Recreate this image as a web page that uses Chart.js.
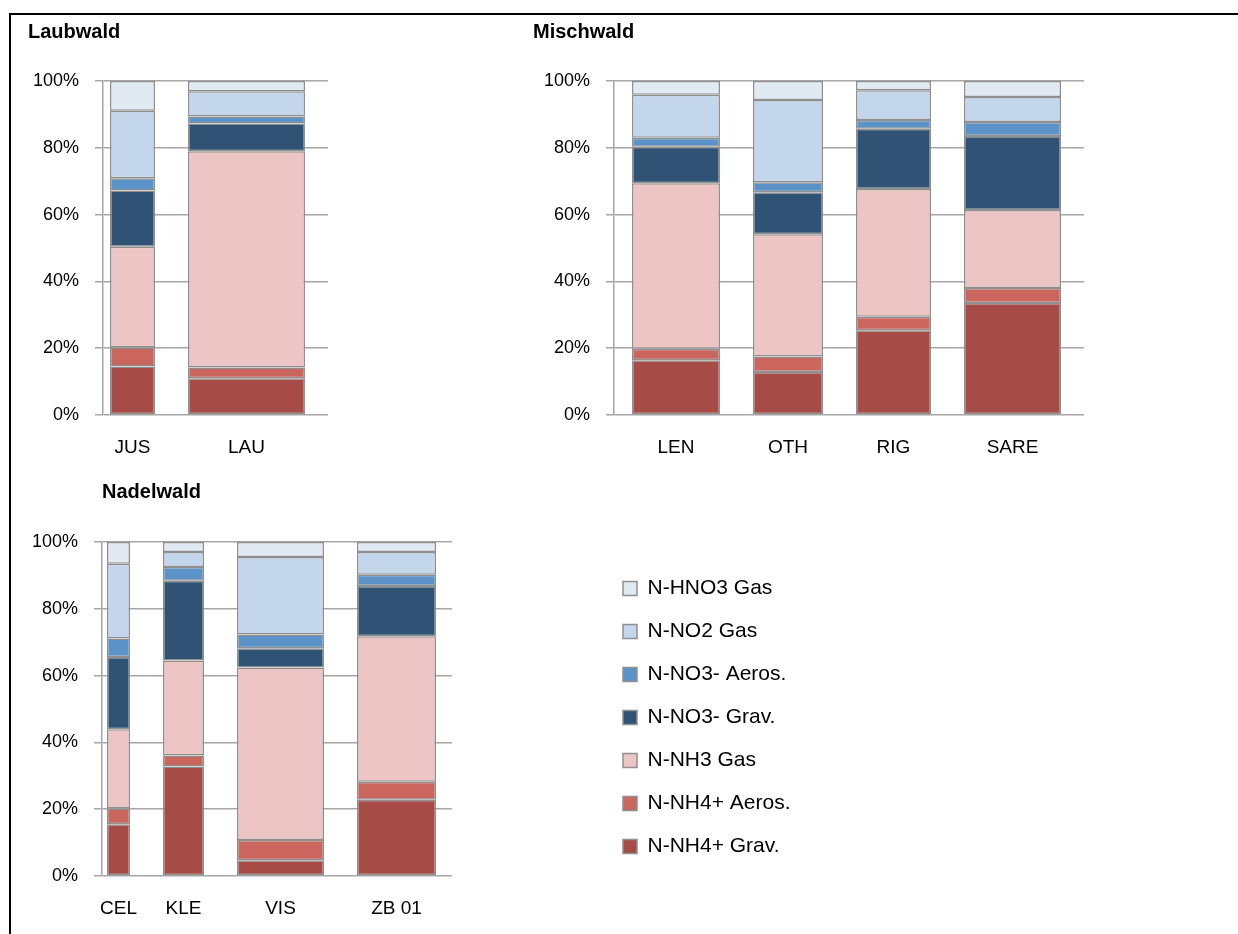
<!DOCTYPE html>
<html>
<head>
<meta charset="utf-8">
<script src="https://cdn.jsdelivr.net/npm/chart.js@4.4.0/dist/chart.umd.min.js"></script>
<style>
  html, body { margin: 0; padding: 0; background: #fff; }
  #page { position: relative; width: 1238px; height: 934px; overflow: hidden; }
  #frame { position: absolute; left: 9px; top: 13px; width: 1300px; height: 1000px; border: 2px solid #000; }
  canvas { position: absolute; }
</style>
</head>
<body>
<div id="page">
  <div id="frame"></div>
  <canvas id="laubDiv" width="300" height="450" style="left:28px;top:10px"></canvas>
  <canvas id="mischDiv" width="551" height="450" style="left:533px;top:10px"></canvas>
  <canvas id="nadelDiv" width="424" height="451" style="left:28px;top:470px"></canvas>
  <canvas id="legendDiv" width="460" height="340" style="left:601px;top:556px"></canvas>
</div>
<script>
// series, bottom of the stack first
const seriesNames = [
  "N-NH4+ Grav.",
  "N-NH4+ Aeros.",
  "N-NH3 Gas",
  "N-NO3- Grav.",
  "N-NO3- Aeros.",
  "N-NO2 Gas",
  "N-HNO3 Gas",
];
const seriesColors = ["#a64b45", "#cb665f", "#ecc5c4", "#2f5275", "#5b93c8", "#c4d6eb", "#e1e9f3"];

// Laubwald
const laubSites = ["JUS", "LAU"];
const laubWidth = [4.5, 11.7];
const laubValues = [
  [14.5, 5.7, 30.2, 16.8, 3.7, 20.2, 8.9],
  [11.0, 3.2, 64.8, 8.3, 2.1, 7.5, 3.1],
];

// Mischwald
const mischSites = ["LEN", "OTH", "RIG", "SARE"];
const mischWidth = [8.8, 7.0, 7.5, 9.7];
const mischValues = [
  [16.4, 3.4, 49.6, 10.9, 2.7, 12.9, 4.1],
  [12.9, 4.6, 36.6, 12.6, 3.0, 24.6, 5.7],
  [25.4, 4.0, 38.3, 18.0, 2.6, 8.9, 2.8],
  [33.5, 4.5, 23.4, 22.1, 4.2, 7.5, 4.8],
];

// Nadelwald
const nadelSites = ["CEL", "KLE", "VIS", "ZB 01"];
const nadelWidth = [2.3, 4.1, 8.7, 7.9];
const nadelValues = [
  [15.5, 4.7, 23.7, 21.7, 5.5, 22.4, 6.5],
  [32.8, 3.3, 28.4, 23.9, 4.1, 4.5, 3.0],
  [4.7, 6.1, 51.6, 5.8, 4.1, 23.2, 4.5],
  [22.8, 5.4, 43.6, 15.0, 3.4, 6.8, 3.0],
];

const yTicks = [0, 20, 40, 60, 80, 100];

const FONT = "'Liberation Sans', Arial, sans-serif";
const GAP = 3.3; // space between bars, in x units
const EDGE = "#8f8f8f";
const GRID = "#a6a6a6";

function makePanel(id, title, sites, widths, values, edgeL, edgeR, axisW, titleFull, titleBottom) {
  // bar centres from the widths, bars side by side with a fixed gap
  const centers = [];
  let pos = edgeL;
  for (let i = 0; i < sites.length; i++) {
    centers.push(pos + widths[i] / 2);
    pos += widths[i] + GAP;
  }
  const range = pos - GAP + edgeR;

  const datasets = [];
  for (let i = 0; i < sites.length; i++) {
    for (let s = 0; s < seriesNames.length; s++) {
      datasets.push({
        label: seriesNames[s],
        data: [{ x: centers[i], y: values[i][s] }],
        backgroundColor: seriesColors[s],
        borderColor: EDGE,
        borderWidth: 1.5,
        borderSkipped: false,
        grouped: false,
        categoryPercentage: 1,
        // one x unit is the sample size (see afterBuildTicks below)
        barPercentage: widths[i],
      });
    }
  }

  return new Chart(document.getElementById(id), {
    type: "bar",
    data: { datasets: datasets },
    options: {
      responsive: false,
      animation: false,
      plugins: {
        legend: { display: false },
        tooltip: { enabled: false },
        title: {
          display: true,
          text: title,
          align: "start",
          fullSize: titleFull,
          color: "#000",
          font: { family: FONT, size: 20, weight: "bold" },
          padding: { top: 10, bottom: titleBottom },
        },
      },
      scales: {
        x: {
          type: "linear",
          display: false,
          offset: false,
          bounds: "data",
          min: 0,
          max: range,
          ticks: { display: false, autoSkip: false },
          afterBuildTicks: (axis) => {
            axis.ticks = [{ value: 0 }, { value: 1 }];
          },
        },
        xl: {
          type: "linear",
          position: "bottom",
          offset: false,
          bounds: "data",
          min: 0,
          max: range,
          grid: { display: false, drawTicks: false },
          border: { display: false },
          ticks: {
            autoSkip: false,
            maxRotation: 0,
            padding: 21,
            color: "#000",
            font: { family: FONT, size: 19 },
            callback: (v, i) => sites[i],
          },
          afterBuildTicks: (axis) => {
            axis.ticks = centers.map((c) => ({ value: c }));
          },
          afterFit: (axis) => {
            axis.height = 45;
          },
        },
        y: {
          stacked: true,
          min: 0,
          max: 100,
          afterBuildTicks: (axis) => {
            axis.ticks = yTicks.map((v) => ({ value: v }));
          },
          ticks: {
            padding: 16,
            color: "#000",
            font: { family: FONT, size: 18 },
            callback: (v) => v + "%",
          },
          grid: { color: GRID, lineWidth: 1.5, tickLength: 8 },
          border: { color: GRID, width: 1.5 },
          afterFit: (axis) => {
            axis.width = axisW;
          },
        },
      },
    },
  });
}

makePanel("laubDiv", "Laubwald", laubSites, laubWidth, laubValues, 0.7, 2.3, 75, true, 37);
makePanel("mischDiv", "Mischwald", mischSites, mischWidth, mischValues, 1.8, 2.3, 81, true, 37);
makePanel("nadelDiv", "Nadelwald", nadelSites, nadelWidth, nadelValues, 0.5, 1.6, 74, false, 38);

// legend only, top entry is the top of the stack
new Chart(document.getElementById("legendDiv"), {
  type: "bar",
  data: {
    labels: [],
    datasets: seriesNames
      .map((name, s) => ({
        label: name,
        data: [],
        backgroundColor: seriesColors[s],
        borderColor: EDGE,
        borderWidth: 1.5,
      }))
      .reverse(),
  },
  options: {
    responsive: false,
    animation: false,
    scales: { x: { display: false }, y: { display: false } },
    plugins: {
      tooltip: { enabled: false },
      legend: {
        position: "left",
        align: "start",
        labels: {
          boxWidth: 14,
          boxHeight: 14,
          padding: 22,
          color: "#000",
          font: { family: FONT, size: 21 },
        },
      },
    },
  },
});
</script>
</body>
</html>
